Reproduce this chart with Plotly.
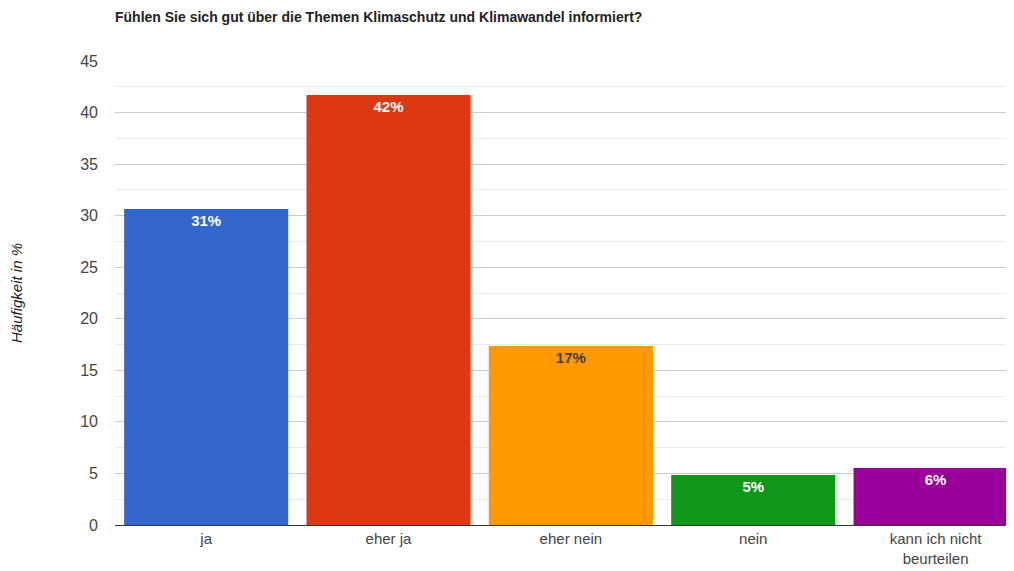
import plotly.graph_objects as go

categories = ["ja", "eher ja", "eher nein", "nein", "kann ich nicht<br>beurteilen"]
values = [30.65, 41.7, 17.36, 4.85, 5.53]
labels = ["31%", "42%", "17%", "5%", "6%"]
colors = ["#3366cc", "#dc3912", "#ff9900", "#109618", "#990099"]
text_colors = ["#ffffff", "#ffffff", "#404040", "#ffffff", "#ffffff"]

# the page body has an 8px margin, so the figure is sized to fit the window
fig = go.Figure()
fig.add_trace(go.Bar(
    x=categories,
    y=values,
    marker=dict(color=colors, line=dict(width=0)),
    text=["<b>" + t + "</b>" for t in labels],
    textposition="inside",
    insidetextanchor="end",
    textangle=0,
    textfont=dict(family="Liberation Sans, Arial", size=15, color=text_colors),
    cliponaxis=False,
    hoverinfo="skip",
))
fig.update_layout(
    width=1006,
    height=563,
    margin=dict(l=107, r=0, t=53, b=46, autoexpand=False),
    paper_bgcolor="white",
    plot_bgcolor="white",
    bargap=0.1,
    showlegend=False,
    font=dict(family="Liberation Sans, Arial", color="#444444"),
    title=dict(
        text="<b>Fühlen Sie sich gut über die Themen Klimaschutz und Klimawandel informiert?</b>",
        x=0, xref="paper", xanchor="left",
        y=1 - 9 / 563, yanchor="middle",
        font=dict(size=14, color="#222222"),
    ),
    xaxis=dict(
        range=[-0.5, 4.43],
        showgrid=False,
        ticks="",
        automargin=False,
        tickfont=dict(size=15, color="#444444"),
        showline=True,
        linecolor="#333333",
        linewidth=1,
    ),
    yaxis=dict(
        range=[0, 45],
        dtick=5,
        showgrid=True,
        gridcolor="#cccccc",
        zeroline=False,
        automargin=False,
        tickfont=dict(size=16, color="#444444"),
        ticks="",
        ticklabelstandoff=16,
        minor=dict(dtick=2.5, showgrid=True, gridcolor="#ebebeb"),
        title=dict(
            text="<i>Häufigkeit in %</i>",
            font=dict(size=15, color="#222222"),
            standoff=62,
        ),
    ),
)
fig.write_html("out.html")
